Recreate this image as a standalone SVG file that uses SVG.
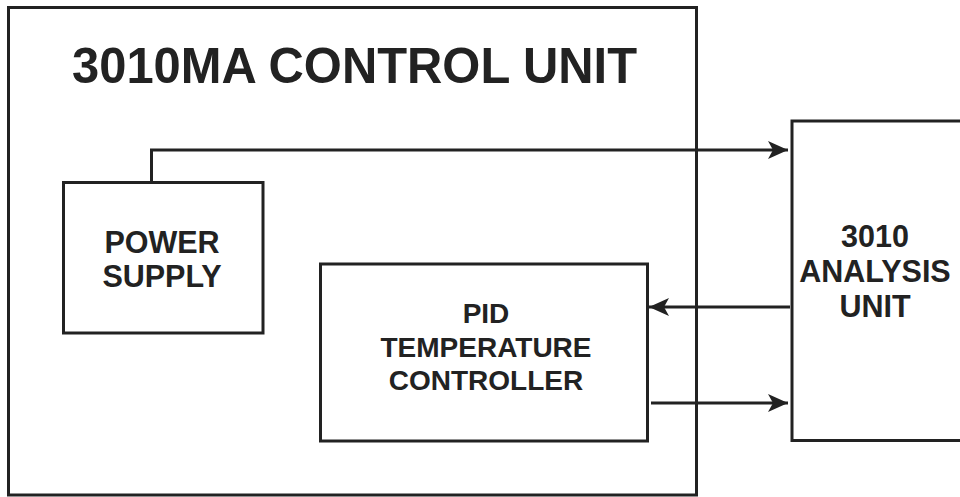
<svg xmlns="http://www.w3.org/2000/svg" width="960" height="497" viewBox="0 0 960 497">
<defs>
<style>
.box{fill:#fff;stroke:#222;stroke-width:3}
.ln{fill:none;stroke:#222;stroke-width:3}
text{font-family:"Liberation Sans",Arial,sans-serif;font-weight:bold;fill:#222;text-anchor:middle}
.t{font-size:50px}
.l{font-size:30.5px}
.p{font-size:28px}
</style>
<marker id="ah" markerWidth="20" markerHeight="18" refX="20" refY="9" orient="auto" markerUnits="userSpaceOnUse">
<path d="M0,0 L20,9 L0,18 L5,9 Z" fill="#222"/>
</marker>
</defs>
<rect width="960" height="497" fill="#fff"/>
<g id="control-unit">
<rect class="box" x="8.5" y="7.5" width="688" height="487.5"/>
<text class="t" x="354.5" y="83" textLength="565" lengthAdjust="spacingAndGlyphs">3010MA CONTROL UNIT</text>
</g>
<g id="analysis-unit">
<rect class="box" x="792" y="121" width="175" height="319.5"/>
<text class="l" x="875" y="247">3010</text>
<text class="l" x="875" y="282">ANALYSIS</text>
<text class="l" x="875" y="317">UNIT</text>
</g>
<g id="power-supply">
<rect class="box" x="63.5" y="182.5" width="199.5" height="150.5"/>
<text class="l" x="162" y="253">POWER</text>
<text class="l" x="162" y="287">SUPPLY</text>
</g>
<g id="pid-controller">
<rect class="box" x="320.5" y="264" width="327" height="177"/>
<text class="p" x="486" y="323">PID</text>
<text class="p" x="486" y="357">TEMPERATURE</text>
<text class="p" x="486" y="390">CONTROLLER</text>
</g>
<g id="connectors">
<path class="ln" d="M151.5,182 V150 H788" marker-end="url(#ah)"/>
<path class="ln" d="M790,307 H649" marker-end="url(#ah)"/>
<path class="ln" d="M651,403 H788" marker-end="url(#ah)"/>
</g>
</svg>
